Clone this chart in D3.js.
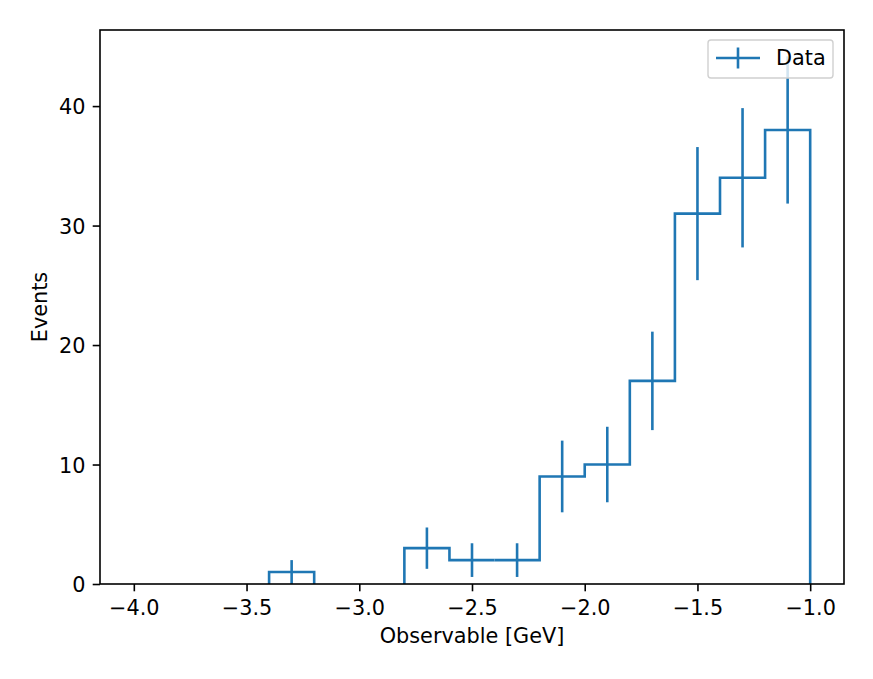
<!DOCTYPE html>
<html>
<head>
<meta charset="utf-8">
<script src="https://cdn.jsdelivr.net/npm/d3@7"></script>
<style>
  html, body { margin: 0; padding: 0; background: #fff; }
  svg { display: block; }
  text { font-family: "DejaVu Sans", sans-serif; fill: #000; }
</style>
</head>
<body>
<svg id="chart" width="873" height="679"></svg>
<script>
// ---- data ----
const binEdges = [-4.0, -3.8, -3.6, -3.4, -3.2, -3.0, -2.8, -2.6, -2.4, -2.2, -2.0, -1.8, -1.6, -1.4, -1.2, -1.0];
const counts   = [0, 0, 0, 1, 0, 0, 3, 2, 2, 9, 10, 17, 31, 34, 38];
const errors   = [0, 0, 0, 1, 0, 0, 1.73, 1.41, 1.41, 3.0, 3.16, 4.12, 5.57, 5.83, 6.16];
const xTicks   = [-4.0, -3.5, -3.0, -2.5, -2.0, -1.5, -1.0];
const yTicks   = [0, 10, 20, 30, 40];
const seriesName = "Data";
const xLabel = "Observable [GeV]";
const yLabel = "Events";

// ---- layout ----
const plot = { left: 100, right: 844, top: 30, bottom: 584 };
const blue = "#1f77b4";
const fontSize = 20.8;
const spineW = 1.6;
const lineW = 2.6;
const tickLen = 7.3;

const svg = d3.select("#chart");

const xMin = d3.min(binEdges), xMax = d3.max(binEdges);
const xPad = (xMax - xMin) * 0.05;
const x = d3.scaleLinear().domain([xMin - xPad, xMax + xPad]).range([plot.left, plot.right]);
const yTop = d3.max(counts.map((c, i) => c + errors[i])) * 1.05;
const y = d3.scaleLinear().domain([0, yTop]).range([plot.bottom, plot.top]);

svg.append("defs").append("clipPath").attr("id", "clip")
  .append("rect").attr("x", plot.left).attr("y", plot.top)
  .attr("width", plot.right - plot.left).attr("height", plot.bottom - plot.top);

const g = svg.append("g").attr("clip-path", "url(#clip)");

// step outline: segments; zero-level horizontal runs lie under the bottom spine, so skip them
const pts = [[binEdges[0], 0]];
counts.forEach((c, i) => { pts.push([binEdges[i], c]); pts.push([binEdges[i + 1], c]); });
pts.push([binEdges[binEdges.length - 1], 0]);
const segs = [];
for (let i = 0; i < pts.length - 1; i++) {
  const a = pts[i], b = pts[i + 1];
  if (a[0] === b[0] && a[1] === b[1]) continue;
  if (a[1] === 0 && b[1] === 0) continue;
  segs.push([a, b]);
}
const runs = [];
segs.forEach(s => {
  const last = runs[runs.length - 1];
  if (last && last[last.length - 1] === s[0]) last.push(s[1]);
  else runs.push([s[0], s[1]]);
});
const lineGen = d3.line().x(d => x(d[0])).y(d => y(d[1]));
g.selectAll("path.step").data(runs).enter().append("path").attr("class", "step")
  .attr("d", lineGen)
  .attr("fill", "none").attr("stroke", blue).attr("stroke-width", lineW)
  .attr("stroke-linejoin", "miter").attr("stroke-linecap", "butt");

// error bars
const centers = counts.map((c, i) => (binEdges[i] + binEdges[i + 1]) / 2);
g.selectAll("line.err").data(counts.map((c, i) => ({ xc: centers[i], c, e: errors[i] })).filter(d => d.e > 0))
  .enter().append("line").attr("class", "err")
  .attr("x1", d => x(d.xc)).attr("x2", d => x(d.xc))
  .attr("y1", d => y(d.c - d.e)).attr("y2", d => y(d.c + d.e))
  .attr("stroke", blue).attr("stroke-width", lineW);

// axes
const xAxis = d3.axisBottom(x).tickValues(xTicks).tickSize(tickLen)
  .tickFormat(d => d3.format(".1f")(d).replace("-", "\u2212"));
const gx = svg.append("g").attr("transform", `translate(0,${plot.bottom})`).call(xAxis);
gx.select(".domain").remove();
gx.selectAll(".tick line").attr("stroke", "#000").attr("stroke-width", spineW);
gx.selectAll(".tick text").attr("font-size", fontSize).attr("font-family", "DejaVu Sans")
  .attr("fill", "#000").attr("y", 31).attr("dy", null);

const yAxis = d3.axisLeft(y).tickValues(yTicks).tickSize(tickLen).tickFormat(d3.format("d"));
const gy = svg.append("g").attr("transform", `translate(${plot.left},0)`).call(yAxis);
gy.select(".domain").remove();
gy.selectAll(".tick line").attr("stroke", "#000").attr("stroke-width", spineW);
gy.selectAll(".tick text").attr("font-size", fontSize).attr("font-family", "DejaVu Sans")
  .attr("fill", "#000").attr("x", -14.6).attr("dy", "0.36em");

// spines
svg.append("rect").attr("x", plot.left).attr("y", plot.top)
  .attr("width", plot.right - plot.left).attr("height", plot.bottom - plot.top)
  .attr("fill", "none").attr("stroke", "#000").attr("stroke-width", spineW);

// axis labels
svg.append("text").attr("x", (plot.left + plot.right) / 2).attr("y", 643)
  .attr("text-anchor", "middle").attr("font-size", fontSize).text(xLabel);
svg.append("text").attr("transform", `translate(46.5,${(plot.top + plot.bottom) / 2}) rotate(-90)`)
  .attr("text-anchor", "middle").attr("font-size", fontSize).text(yLabel);

// legend
const lg = svg.append("g");
lg.append("rect").attr("x", 708).attr("y", 40).attr("width", 125).attr("height", 38)
  .attr("rx", 3).attr("ry", 3)
  .attr("fill", "#fff").attr("fill-opacity", 0.8).attr("stroke", "#d0d0d0").attr("stroke-width", 1.4);
lg.append("line").attr("x1", 716).attr("x2", 760).attr("y1", 58).attr("y2", 58)
  .attr("stroke", blue).attr("stroke-width", lineW);
lg.append("line").attr("x1", 738).attr("x2", 738).attr("y1", 47.5).attr("y2", 68.5)
  .attr("stroke", blue).attr("stroke-width", lineW);
lg.append("text").attr("x", 776).attr("y", 64.5).attr("font-size", fontSize).text(seriesName);
</script>
</body>
</html>
